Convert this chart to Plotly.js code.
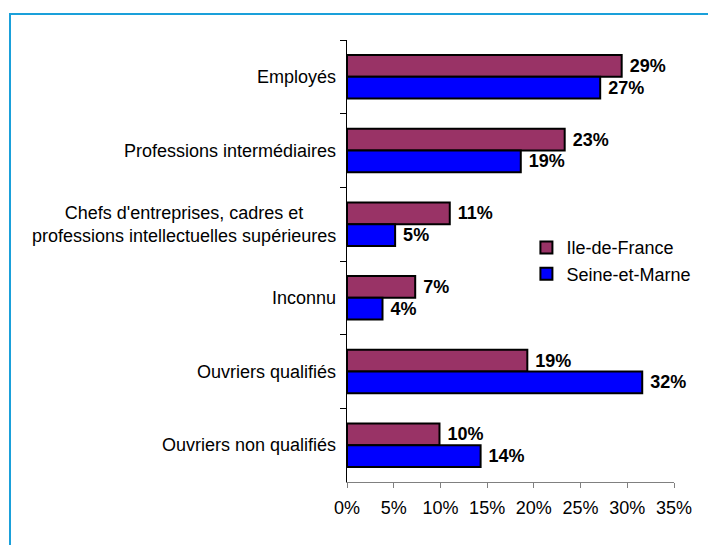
<!DOCTYPE html>
<html>
<head>
<meta charset="utf-8">
<script src="https://cdn.plot.ly/plotly-3.0.1.min.js"></script>
<style>
  html, body { margin: 0; padding: 0; width: 708px; height: 545px; overflow: hidden; background: #fff; }
  #chart { position: absolute; left: 0; top: 0; width: 708px; height: 545px; }
  #frame { position: absolute; left: 9px; top: 13px; width: 760px; height: 600px;
           border: 2px solid #1AA0DA; pointer-events: none; }
</style>
</head>
<body>
<div id="chart"></div>
<div id="frame"></div>
<script>
// Categories (top to bottom)
const categories = [
  "Employés",
  "Professions intermédiaires",
  "Chefs d'entreprises, cadres et<br>professions intellectuelles supérieures",
  "Inconnu",
  "Ouvriers qualifiés",
  "Ouvriers non qualifiés"
];
// Series values (percent)
const ileDeFrance   = [29.4, 23.3, 11.0, 7.3, 19.3, 9.9];
const seineEtMarne  = [27.1, 18.6, 5.15, 3.8, 31.6, 14.3];
const seriesNames = ["Ile-de-France", "Seine-et-Marne"];
const xTicks = [0, 5, 10, 15, 20, 25, 30, 35];

const font = "Arial, 'Liberation Sans', sans-serif";

function barTrace(name, values, color) {
  return {
    type: "bar",
    orientation: "h",
    name: name,
    y: categories,
    x: values,
    marker: { color: color, line: { color: "#000", width: 2 } },
    texttemplate: " %{x:.0f}%",
    textposition: "outside",
    cliponaxis: false,
    constraintext: "none",
    textfont: { family: font, size: 18, color: "#000", weight: "bold" },
    hoverinfo: "skip"
  };
}

const data = [
  barTrace(seriesNames[0], ileDeFrance, "#993366"),
  barTrace(seriesNames[1], seineEtMarne, "#0000FF")
];

const annotations = categories.map(c => ({
  xref: "paper", yref: "y", x: 0, y: c,
  xanchor: "right", yanchor: "middle", xshift: -9,
  text: c, showarrow: false, align: "center",
  font: { family: font, size: 18, color: "#000" }
}));

const layout = {
  width: 708, height: 545,
  margin: { l: 347, r: 33, t: 40, b: 63, pad: 0 },
  paper_bgcolor: "#fff", plot_bgcolor: "#fff",
  font: { family: font, size: 18, color: "#000" },
  barmode: "group",
  bargap: 0.41,
  bargroupgap: 0,
  showlegend: true,
  legend: {
    x: 0.547, y: 0.572, xanchor: "left", yanchor: "top",
    font: { family: font, size: 18, color: "#000" },
    bgcolor: "rgba(0,0,0,0)", itemwidth: 30
  },
  xaxis: {
    range: [0, 35],
    tickvals: xTicks,
    ticktext: xTicks.map(v => v + "%"),
    ticks: "outside", ticklen: 5, tickcolor: "#808080", tickwidth: 1,
    ticklabelstandoff: 4,
    showline: true, linecolor: "#808080", linewidth: 1,
    showgrid: false, zeroline: false,
    tickfont: { family: font, size: 18, color: "#000" },
    fixedrange: true
  },
  yaxis: {
    type: "category",
    autorange: "reversed",
    showticklabels: false,
    ticks: "outside", tickson: "boundaries", ticklen: 6, tickcolor: "#000", tickwidth: 1,
    showline: true, linecolor: "#000", linewidth: 1,
    showgrid: false, zeroline: false,
    fixedrange: true
  },
  annotations: annotations
};

Plotly.newPlot("chart", data, layout, { staticPlot: true, displayModeBar: false });
</script>
</body>
</html>
